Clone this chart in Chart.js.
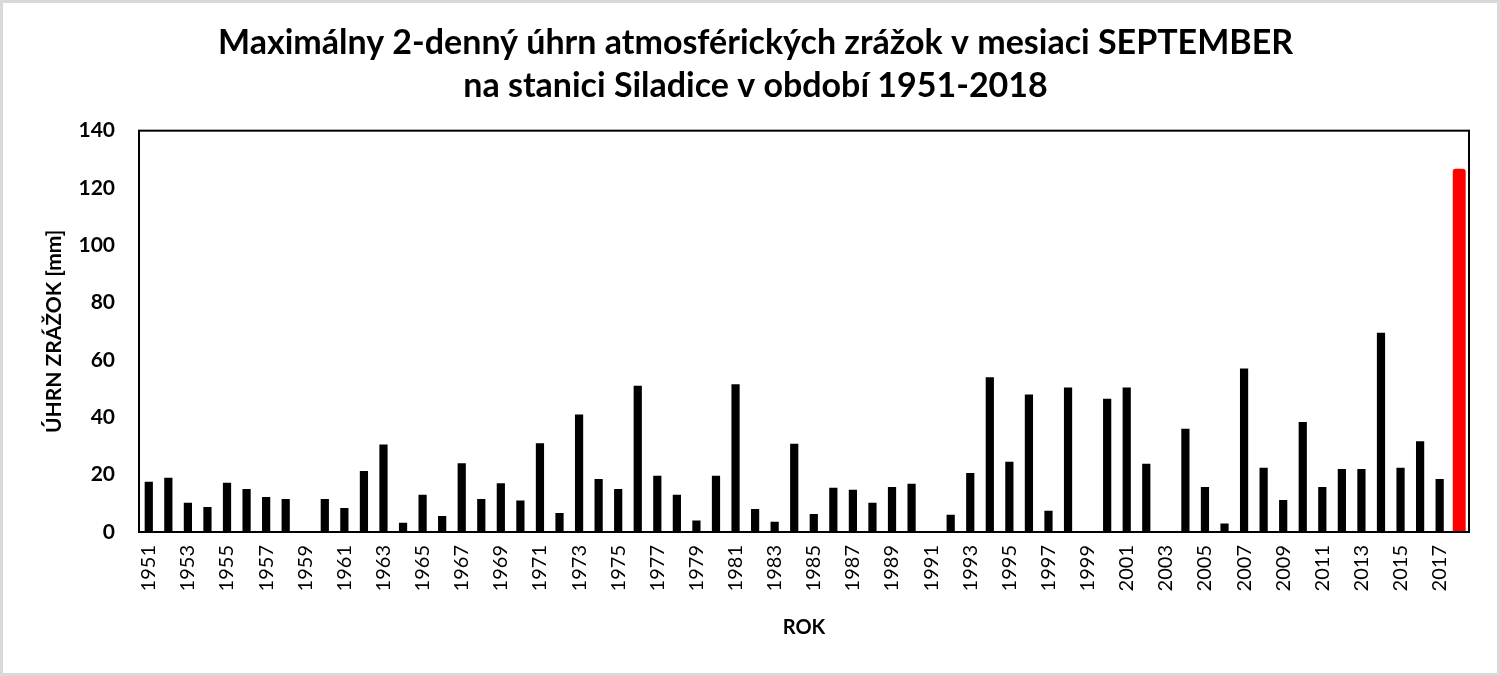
<!DOCTYPE html>
<html>
<head>
<meta charset="utf-8">
<script src="https://cdn.jsdelivr.net/npm/chart.js@4/dist/chart.umd.min.js"></script>
<style>
  html, body { margin: 0; padding: 0; background: #fff; }
  #wrap { width: 1500px; height: 676px; }
</style>
</head>
<body>
<div id="wrap"><canvas id="rainChart" width="1500" height="676"></canvas></div>
<script>
const years = ['1951','1952','1953','1954','1955','1956','1957','1958','1959','1960',
  '1961','1962','1963','1964','1965','1966','1967','1968','1969','1970',
  '1971','1972','1973','1974','1975','1976','1977','1978','1979','1980',
  '1981','1982','1983','1984','1985','1986','1987','1988','1989','1990',
  '1991','1992','1993','1994','1995','1996','1997','1998','1999','2000',
  '2001','2002','2003','2004','2005','2006','2007','2008','2009','2010',
  '2011','2012','2013','2014','2015','2016','2017','2018'];

const maxRain = [17.5, 18.9, 10.2, 8.7, 17.2, 15.0, 12.2, 11.5, 0, 11.5,
  8.4, 21.3, 30.5, 3.2, 13.0, 5.6, 24.0, 11.5, 17.0, 11.0,
  31.0, 6.6, 41.0, 18.5, 15.0, 51.0, 19.6, 13.0, 4.0, 19.6,
  51.5, 8.0, 3.6, 30.8, 6.3, 15.4, 14.7, 10.2, 15.7, 16.8,
  0, 6.0, 20.6, 54.0, 24.5, 48.0, 7.4, 50.4, 0, 46.5,
  50.4, 23.8, 0, 36.0, 15.7, 3.0, 57.0, 22.4, 11.2, 38.4,
  15.7, 22.0, 22.0, 69.5, 22.4, 31.7, 18.5, 126.7];

const highlightYear = '2018';

const yTicks = [0, 20, 40, 60, 80, 100, 120, 140];

const FONT = 'Lato, "Open Sans", sans-serif';

// white page, gray outer frame and black box round the plot
const framePlugin = {
  id: 'frame',
  beforeDraw(chart) {
    const c = chart.ctx;
    c.save();
    c.fillStyle = '#fff';
    c.fillRect(0, 0, chart.width, chart.height);
    c.strokeStyle = '#d9d9d9';
    c.lineWidth = 3;
    c.strokeRect(1.5, 1.5, chart.width - 3, chart.height - 3);
    c.restore();
  },
  afterDatasetsDraw(chart) {
    const a = chart.chartArea;
    const c = chart.ctx;
    c.save();
    c.strokeStyle = '#000';
    c.lineWidth = 2;
    c.strokeRect(a.left, a.top, a.right - a.left, a.bottom - a.top);
    c.restore();
  }
};

const hi = years.indexOf(highlightYear);

new Chart(document.getElementById('rainChart').getContext('2d'), {
  type: 'bar',
  data: {
    labels: years,
    datasets: [
      {
        data: maxRain.map((v, i) => i === hi ? null : v),
        backgroundColor: '#000',
        grouped: false,
        barPercentage: 0.42,
        categoryPercentage: 1.0
      },
      {
        data: maxRain.map((v, i) => i === hi ? v : null),
        backgroundColor: '#ff0000',
        borderRadius: 3,
        borderSkipped: 'bottom',
        grouped: false,
        barPercentage: 0.66,
        categoryPercentage: 1.0
      }
    ]
  },
  options: {
    responsive: false,
    animation: false,
    layout: { padding: { left: 42, right: 31, top: 0, bottom: 36 } },
    plugins: {
      legend: { display: false },
      tooltip: { enabled: false },
      title: {
        display: true,
        text: ['Maximálny 2-denný úhrn atmosférických zrážok v mesiaci SEPTEMBER',
               'na stanici Siladice v období 1951-2018'],
        color: '#000',
        font: { family: FONT, size: 34, weight: 'bold', lineHeight: 1.26 },
        padding: { top: 22, bottom: 23 }
      }
    },
    scales: {
      x: {
        offset: true,
        grid: { display: false, drawTicks: false },
        border: { display: false },
        ticks: {
          color: '#000',
          font: { family: FONT, size: 20 },
          autoSkip: false,
          maxRotation: 90,
          minRotation: 90,
          padding: 13,
          callback: (val, i) => i % 2 === 0 ? years[i] : ''
        },
        title: {
          display: true,
          text: 'ROK',
          color: '#000',
          font: { family: FONT, size: 20, weight: 'bold' },
          padding: { top: 8, bottom: 0 }
        },
        afterFit: s => { s.height = 108; }
      },
      y: {
        min: 0,
        max: 140,
        afterBuildTicks: s => { s.ticks = yTicks.map(v => ({ value: v })); },
        grid: { display: false, drawTicks: false },
        border: { display: false },
        ticks: {
          color: '#000',
          font: { family: FONT, size: 21, weight: 'bold' },
          padding: 24
        },
        title: {
          display: true,
          text: 'ÚHRN ZRÁŽOK [mm]',
          color: '#000',
          font: { family: FONT, size: 21, weight: 'bold' },
          padding: { top: 0, bottom: 10 }
        },
        afterFit: s => { s.width = 97; }
      }
    }
  },
  plugins: [framePlugin]
});
</script>
</body>
</html>
